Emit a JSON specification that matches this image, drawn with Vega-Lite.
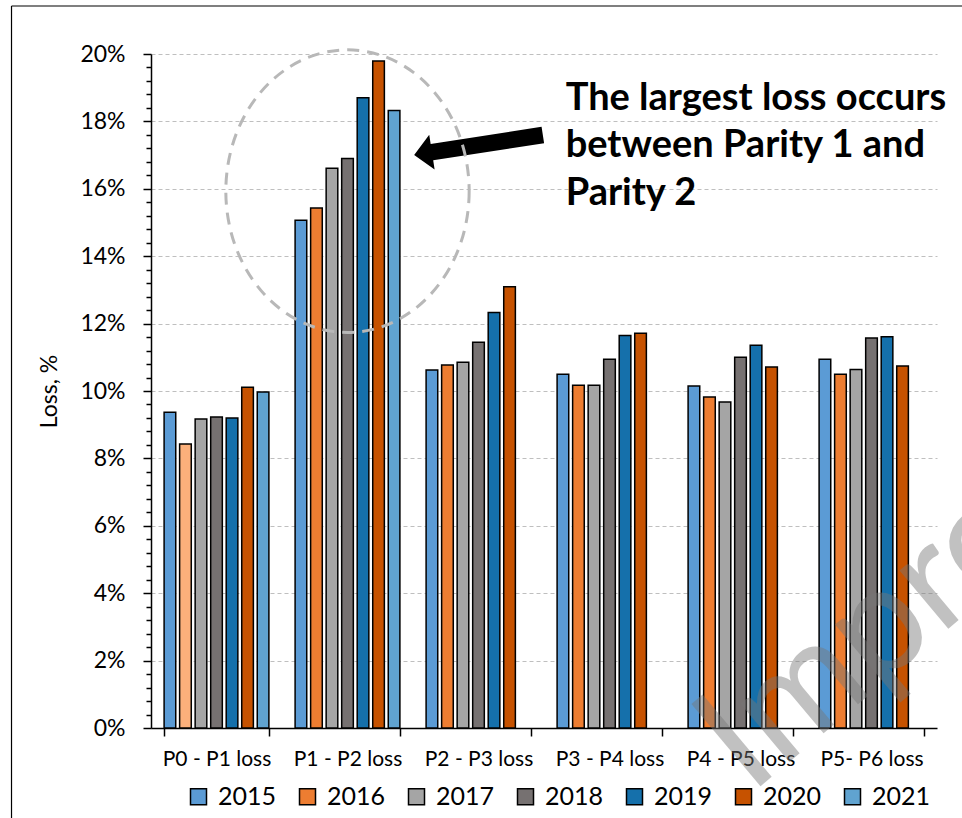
{
  "$schema": "https://vega.github.io/schema/vega-lite/v6.json",
  "width": 786,
  "height": 674,
  "autosize": "none",
  "padding": {"left": 151, "top": 54, "right": 25, "bottom": 90},
  "background": "white",
  "config": {
    "view": {"stroke": null},
    "font": "Lato",
    "axis": {"labelFont": "Lato", "titleFont": "Lato", "labelColor": "#000000", "titleColor": "#000000"}
  },
  "datasets": {
    "loss": [
      {"category": "P0 - P1 loss", "year": "2015", "loss": 0.0937},
      {"category": "P0 - P1 loss", "year": "2016", "loss": 0.0843},
      {"category": "P0 - P1 loss", "year": "2017", "loss": 0.0917},
      {"category": "P0 - P1 loss", "year": "2018", "loss": 0.0923},
      {"category": "P0 - P1 loss", "year": "2019", "loss": 0.0920},
      {"category": "P0 - P1 loss", "year": "2020", "loss": 0.1011},
      {"category": "P0 - P1 loss", "year": "2021", "loss": 0.0997},
      {"category": "P1 - P2 loss", "year": "2015", "loss": 0.1507},
      {"category": "P1 - P2 loss", "year": "2016", "loss": 0.1543},
      {"category": "P1 - P2 loss", "year": "2017", "loss": 0.1661},
      {"category": "P1 - P2 loss", "year": "2018", "loss": 0.1690},
      {"category": "P1 - P2 loss", "year": "2019", "loss": 0.1870},
      {"category": "P1 - P2 loss", "year": "2020", "loss": 0.1979},
      {"category": "P1 - P2 loss", "year": "2021", "loss": 0.1832},
      {"category": "P2 - P3 loss", "year": "2015", "loss": 0.1062},
      {"category": "P2 - P3 loss", "year": "2016", "loss": 0.1077},
      {"category": "P2 - P3 loss", "year": "2017", "loss": 0.1085},
      {"category": "P2 - P3 loss", "year": "2018", "loss": 0.1145},
      {"category": "P2 - P3 loss", "year": "2019", "loss": 0.1233},
      {"category": "P2 - P3 loss", "year": "2020", "loss": 0.1309},
      {"category": "P3 - P4 loss", "year": "2015", "loss": 0.1050},
      {"category": "P3 - P4 loss", "year": "2016", "loss": 0.1017},
      {"category": "P3 - P4 loss", "year": "2017", "loss": 0.1017},
      {"category": "P3 - P4 loss", "year": "2018", "loss": 0.1094},
      {"category": "P3 - P4 loss", "year": "2019", "loss": 0.1165},
      {"category": "P3 - P4 loss", "year": "2020", "loss": 0.1171},
      {"category": "P4 - P5 loss", "year": "2015", "loss": 0.1015},
      {"category": "P4 - P5 loss", "year": "2016", "loss": 0.0982},
      {"category": "P4 - P5 loss", "year": "2017", "loss": 0.0967},
      {"category": "P4 - P5 loss", "year": "2018", "loss": 0.1100},
      {"category": "P4 - P5 loss", "year": "2019", "loss": 0.1136},
      {"category": "P4 - P5 loss", "year": "2020", "loss": 0.1071},
      {"category": "P5- P6 loss", "year": "2015", "loss": 0.1094},
      {"category": "P5- P6 loss", "year": "2016", "loss": 0.1050},
      {"category": "P5- P6 loss", "year": "2017", "loss": 0.1064},
      {"category": "P5- P6 loss", "year": "2018", "loss": 0.1157},
      {"category": "P5- P6 loss", "year": "2019", "loss": 0.1161},
      {"category": "P5- P6 loss", "year": "2020", "loss": 0.1074}
    ],
    "note": [
      {"label": "The largest loss occurs\nbetween Parity 1 and\nParity 2"}
    ],
    "mark": [
      {"label": "Improvement"}
    ]
  },
  "layer": [
    {
      "data": {"name": "loss"},
      "mark": {"type": "bar", "stroke": "#000000", "strokeWidth": 1.5},
      "encoding": {
        "x": {
          "field": "category",
          "type": "nominal",
          "sort": ["P0 - P1 loss", "P1 - P2 loss", "P2 - P3 loss", "P3 - P4 loss", "P4 - P5 loss", "P5- P6 loss"],
          "scale": {"paddingInner": 0.2, "paddingOuter": 0.1},
          "title": null,
          "axis": {
            "labelAngle": 0,
            "labelFontSize": 21,
            "labelPadding": 12,
            "tickBand": "extent",
            "tickSize": 8,
            "tickColor": "#000000",
            "tickWidth": 1.5,
            "domainColor": "#000000",
            "domainWidth": 1.5,
            "grid": false
          }
        },
        "xOffset": {
          "field": "year",
          "type": "nominal",
          "scale": {"paddingInner": 0.25, "paddingOuter": 0}
        },
        "y": {
          "field": "loss",
          "type": "quantitative",
          "scale": {"domain": [0, 0.2], "nice": false},
          "title": "Loss, %",
          "axis": {
            "values": [0,0.004,0.008,0.012,0.016,0.02,0.024,0.028,0.032,0.036,0.04,0.044,0.048,0.052,0.056,0.06,0.064,0.068,0.072,0.076,0.08,0.084,0.088,0.092,0.096,0.1,0.104,0.108,0.112,0.116,0.12,0.124,0.128,0.132,0.136,0.14,0.144,0.148,0.152,0.156,0.16,0.164,0.168,0.172,0.176,0.18,0.184,0.188,0.192,0.196,0.2],
            "tickCount": 100,
            "labelExpr": "round(datum.value*1000) % 20 === 0 ? format(datum.value, '.0%') : ''",
            "labelOverlap": false,
            "labelFontSize": 23,
            "labelPadding": 18,
            "titleFontSize": 23,
            "titleFontWeight": "normal",
            "titlePadding": 18,
            "grid": true,
            "gridColor": "#BFBFBF",
            "gridDash": [4, 3],
            "gridWidth": 1.2,
            "gridOpacity": {"condition": {"test": "round(datum.value*1000) % 20 === 0 && datum.value > 0", "value": 1}, "value": 0},
            "tickSize": {"condition": {"test": "round(datum.value*1000) % 20 === 0", "value": 8}, "value": 5},
            "tickColor": "#000000",
            "tickWidth": 1.5,
            "domainColor": "#000000",
            "domainWidth": 1.5
          }
        },
        "color": {
          "condition": {"test": "datum.category === 'P0 - P1 loss' && datum.year === '2016'", "value": "#FBB07B"},
          "field": "year",
          "type": "nominal",
          "scale": {
            "domain": ["2015", "2016", "2017", "2018", "2019", "2020", "2021"],
            "range": ["#5B9BD5", "#ED7D31", "#A5A5A5", "#767171", "#1570AB", "#C65200", "#60A3D0"]
          },
          "legend": {
            "orient": "none",
            "legendX": 35,
            "legendY": 730,
            "direction": "horizontal",
            "title": null,
            "padding": 0,
            "symbolType": "square",
            "symbolSize": 256,
            "symbolStrokeColor": "#000000",
            "symbolStrokeWidth": 1.5,
            "symbolOpacity": 1,
            "labelFont": "Lato",
            "labelFontSize": 25,
            "labelColor": "#000000",
            "labelOffset": 7,
            "columnPadding": 18
          }
        }
      }
    },
    {
      "data": {"name": "note"},
      "mark": {
        "type": "point",
        "shape": "M-1,0 L-0.724,-0.27 L-0.724,-0.127 L1,-0.127 L1,0.127 L-0.724,0.127 L-0.724,0.27 Z",
        "filled": true,
        "fill": "#000000",
        "stroke": null,
        "opacity": 1,
        "size": 16952,
        "angle": -8.8
      },
      "encoding": {
        "x": {"datum": "P2 - P3 loss", "type": "nominal"},
        "y": {"datum": 0.173, "type": "quantitative"}
      }
    },
    {
      "data": {"name": "note"},
      "mark": {
        "type": "point",
        "shape": "M0.861,0 C0.861,0.5523 0.4755,1 0,1 C-0.4755,1 -0.861,0.5523 -0.861,0 C-0.861,-0.5523 -0.4755,-1 0,-1 C0.4755,-1 0.861,-0.5523 0.861,0 Z",
        "filled": false,
        "stroke": "#B8B8B8",
        "strokeWidth": 3,
        "strokeDash": [12, 8],
        "opacity": 1,
        "size": 79864
      },
      "encoding": {
        "x": {"datum": "P1 - P2 loss", "type": "nominal"},
        "y": {"datum": 0.1593, "type": "quantitative"}
      }
    },
    {
      "data": {"name": "note"},
      "mark": {
        "type": "point",
        "shape": "M0,0 L1000,0 M0,0 L0,850",
        "filled": false,
        "stroke": "#000000",
        "strokeWidth": 1.2,
        "opacity": 1,
        "size": 4
      },
      "encoding": {
        "x": {"datum": "P0 - P1 loss", "type": "nominal", "bandPosition": -1.456},
        "y": {"datum": 0.21424, "type": "quantitative"}
      }
    },
    {
      "data": {"name": "note"},
      "mark": {
        "type": "text",
        "align": "left",
        "baseline": "alphabetic",
        "lineBreak": "\n",
        "lineHeight": 47.5,
        "font": "Lato",
        "fontWeight": "bold",
        "fontSize": 38,
        "color": "#000000"
      },
      "encoding": {
        "x": {"datum": "P3 - P4 loss", "type": "nominal", "bandPosition": 0.082},
        "y": {"datum": 0.1834, "type": "quantitative"},
        "text": {"field": "label"}
      }
    },
    {
      "data": {"name": "mark"},
      "mark": {
        "type": "text",
        "align": "left",
        "baseline": "alphabetic",
        "angle": -40,
        "font": "Lato",
        "fontSize": 150,
        "color": "#777777",
        "opacity": 0.45
      },
      "encoding": {
        "x": {"datum": "P4 - P5 loss", "type": "nominal", "bandPosition": 0.591},
        "y": {"datum": -0.0199, "type": "quantitative"},
        "text": {"field": "label"}
      }
    }
  ]
}
